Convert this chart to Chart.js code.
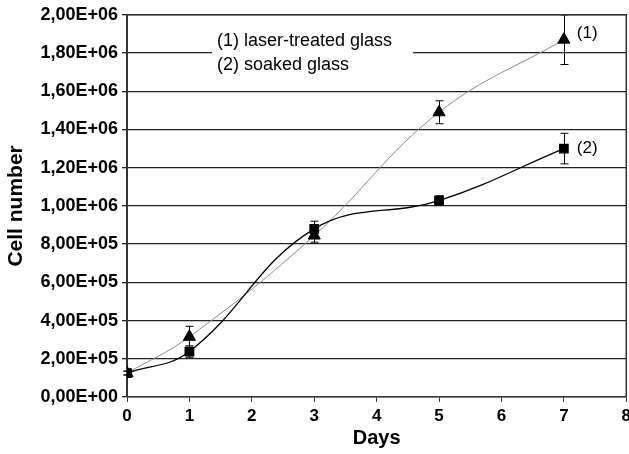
<!DOCTYPE html>
<html lang="en">
<head>
    <meta charset="UTF-8">
    <title>Cell number</title>
    <script src="https://cdn.jsdelivr.net/npm/chart.js"></script>
    <style>
        html, body { margin: 0; background: #fff; overflow: hidden; }
        /* canvas is a bit wider than the window so the "8" gets cut like in the original */
        #wrap { width: 629px; height: 454px; overflow: hidden; }
    </style>
</head>
<body>
    <div id="wrap"><canvas id="cellChart" width="635" height="454"></canvas></div>

    <script>
        // data
        const days = [0, 1, 3, 5, 7];
        const laserValues = [125000, 315000, 845000, 1490000, 1870000];
        const laserErrors = [10000, 55000, 35000, 60000, 130000];
        const soakedValues = [125000, 238000, 880000, 1028000, 1300000];
        const soakedErrors = [10000, 30000, 40000, 25000, 80000];
        const legendLines = ['(1) laser-treated glass', '(2) soaked glass'];
        const endLabels = ['(1)', '(2)'];

        const errorSets = [laserErrors, soakedErrors];

        function sciLabel(v) {
            if (v === 0) return '0,00E+00';
            const exp = Math.floor(Math.log10(v));
            const mant = (v / Math.pow(10, exp)).toFixed(2).replace('.', ',');
            return mant + 'E+' + String(exp).padStart(2, '0');
        }

        // error bars, frame, legend box and the (1)/(2) tags
        const extras = {
            id: 'extras',
            afterDatasetsDraw(chart) {
                const ctx = chart.ctx;
                const xs = chart.scales.x, ys = chart.scales.y;
                const area = chart.chartArea;

                ctx.save();
                ctx.strokeStyle = '#000';
                ctx.lineWidth = 1;
                chart.data.datasets.forEach((ds, i) => {
                    ds.data.forEach(p => {
                        const err = errorSets[i][days.indexOf(p.x)];
                        const px = Math.round(xs.getPixelForValue(p.x)) + 0.5;
                        const top = ys.getPixelForValue(p.y + err);
                        const bot = ys.getPixelForValue(p.y - err);
                        ctx.beginPath();
                        ctx.moveTo(px, top); ctx.lineTo(px, bot);
                        ctx.moveTo(px - 4, top); ctx.lineTo(px + 4, top);
                        ctx.moveTo(px - 4, bot); ctx.lineTo(px + 4, bot);
                        ctx.stroke();
                    });
                });

                // frame on top and right
                ctx.strokeStyle = '#333';
                ctx.lineWidth = 1.5;
                ctx.beginPath();
                ctx.moveTo(area.left, area.top);
                ctx.lineTo(area.right, area.top);
                ctx.lineTo(area.right, area.bottom);
                ctx.stroke();

                // legend box over the grid
                const lx = 212, ly = 30;
                ctx.fillStyle = '#fff';
                ctx.fillRect(lx, ly, 201, 44);
                ctx.fillStyle = '#000';
                ctx.font = '18px "Liberation Sans", Arial, sans-serif';
                ctx.textBaseline = 'middle';
                ctx.textAlign = 'left';
                ctx.fillText(legendLines[0], lx + 5, 41);
                ctx.fillText(legendLines[1], lx + 5, 65);

                // tags at the last points
                const last = days.length - 1;
                ctx.font = '17px "Liberation Sans", Arial, sans-serif';
                ctx.fillText(endLabels[0], xs.getPixelForValue(days[last]) + 13, ys.getPixelForValue(laserValues[last]) - 6);
                ctx.fillText(endLabels[1], xs.getPixelForValue(days[last]) + 13, ys.getPixelForValue(soakedValues[last]));
                ctx.restore();
            }
        };

        const ctx = document.getElementById('cellChart').getContext('2d');
        new Chart(ctx, {
            type: 'line',
            data: {
                datasets: [
                    {
                        label: legendLines[0],
                        data: days.map((d, i) => ({ x: d, y: laserValues[i] })),
                        borderColor: '#8a8a8a',
                        borderWidth: 1,
                        pointStyle: 'triangle',
                        pointRadius: 7,
                        pointBackgroundColor: '#000',
                        pointBorderColor: '#000',
                        tension: 0.4,
                        order: 2
                    },
                    {
                        label: legendLines[1],
                        data: days.map((d, i) => ({ x: d, y: soakedValues[i] })),
                        borderColor: '#000',
                        borderWidth: 1.3,
                        pointStyle: 'rect',
                        pointRadius: 6,
                        pointBackgroundColor: '#000',
                        pointBorderColor: '#000',
                        tension: 0.4,
                        order: 1
                    }
                ]
            },
            options: {
                responsive: false,
                animation: false,
                layout: { padding: { top: 14, right: 0, left: 0, bottom: 0 } },
                plugins: {
                    legend: { display: false },
                    tooltip: { enabled: false }
                },
                scales: {
                    x: {
                        type: 'linear',
                        min: 0,
                        max: 8,
                        ticks: {
                            stepSize: 1,
                            color: '#000',
                            font: { family: '"Liberation Sans", Arial', size: 17, weight: 'bold' },
                            padding: 4
                        },
                        grid: { display: true, drawOnChartArea: false, color: '#333', tickLength: 5 },
                        border: { color: '#333', width: 1.5 },
                        title: {
                            display: true,
                            text: 'Days',
                            color: '#000',
                            font: { family: '"Liberation Sans", Arial', size: 20, weight: 'bold' },
                            padding: { top: 0 }
                        },
                        afterFit(scale) { scale.height = 57; }
                    },
                    y: {
                        min: 0,
                        max: 2000000,
                        ticks: {
                            stepSize: 200000,
                            color: '#000',
                            font: { family: '"Liberation Sans", Arial', size: 18, weight: 'bold' },
                            padding: 4,
                            callback: v => sciLabel(v)
                        },
                        grid: { color: '#222', lineWidth: 1.3, tickLength: 5 },
                        border: { color: '#333', width: 2 },
                        title: {
                            display: true,
                            text: 'Cell number',
                            color: '#000',
                            font: { family: '"Liberation Sans", Arial', size: 21, weight: 'bold' },
                            padding: { bottom: 0 }
                        },
                        afterFit(scale) { scale.width = 127; }
                    }
                }
            },
            plugins: [extras]
        });
    </script>
</body>
</html>
